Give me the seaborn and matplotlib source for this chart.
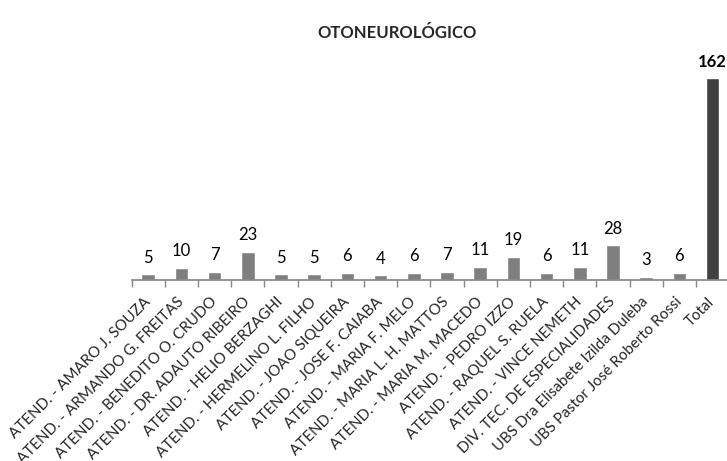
import matplotlib
matplotlib.use("Agg")
from matplotlib import pyplot as plt
from matplotlib.transforms import ScaledTranslation
import seaborn as sns
import numpy as np

categories = [
    "ATEND. - AMARO J. SOUZA",
    "ATEND. - ARMANDO G. FREITAS",
    "ATEND. - BENEDITO O. CRUDO",
    "ATEND. - DR. ADAUTO RIBEIRO",
    "ATEND. - HELIO BERZAGHI",
    "ATEND. - HERMELINO L. FILHO",
    "ATEND. - JOAO SIQUEIRA",
    "ATEND. - JOSE F. CAIABA",
    "ATEND. - MARIA F. MELO",
    "ATEND. - MARIA L. H. MATTOS",
    "ATEND. - MARIA M. MACEDO",
    "ATEND. - PEDRO IZZO",
    "ATEND. - RAQUEL S. RUELA",
    "ATEND. - VINCE NEMETH",
    "DIV. TEC. DE ESPECIALIDADES",
    "UBS Dra Elisabete Izilda Duleba",
    "UBS Pastor José Roberto Rossi",
    "Total",
]
values = [5, 10, 7, 23, 5, 5, 6, 4, 6, 7, 11, 19, 6, 11, 28, 3, 6, 162]
title = "OTONEUROLÓGICO"

sns.set_theme(style="white")
plt.rcParams["font.family"] = ["Lato", "DejaVu Sans"]

colors = ["#7f7f7f"] * (len(categories) - 1) + ["#404040"]

fig = plt.figure(figsize=(7.27, 4.61), dpi=100)
ax = fig.add_axes([0.181, 0.392, 0.822, 0.473])

sns.barplot(x=categories, y=values, hue=categories, palette=colors,
            legend=False, width=0.41, ax=ax, saturation=1)

for i, cont in enumerate(ax.containers):
    last = i == len(ax.containers) - 1
    ax.bar_label(cont, padding=6, fontsize=12,
                 fontweight="bold" if last else "normal", color="black")

ax.set_ylim(0, 175)
ax.set_xlim(-0.5, len(categories) - 0.5)
ax.set_yticks([])
sns.despine(ax=ax, left=True)
ax.spines["bottom"].set_color("#868686")

ax.set_xticks(np.arange(len(categories)))
ax.set_xticklabels(categories, rotation=45, ha="right", va="top",
                   rotation_mode="anchor", fontsize=10.9)
ax.tick_params(axis="x", which="major", length=0, pad=9)
shift = ScaledTranslation(-5 / 100, -2 / 100, fig.dpi_scale_trans)
for lbl in ax.get_xticklabels():
    lbl.set_transform(lbl.get_transform() + shift)
ax.set_xticks(np.arange(len(categories)) - 0.5, minor=True)
ax.tick_params(axis="x", which="minor", length=5, color="#868686",
               bottom=True, direction="out")

fig.text(0.546, 0.928, title, ha="center", va="center",
         fontsize=12, fontweight="bold")

fig.savefig("out.png", dpi=100)
